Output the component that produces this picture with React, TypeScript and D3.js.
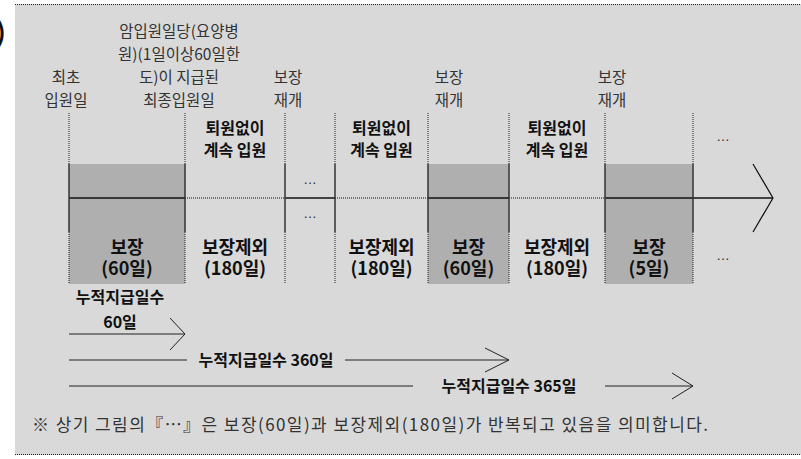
import React from 'react';
import * as d3 from 'd3';

// timeline segments, left to right
const segKind = ['cover', 'excl', 'gap', 'excl', 'cover', 'excl', 'cover'];
const segMain = ['보장', '보장제외', '', '보장제외', '보장', '보장제외', '보장'];
const segDays = ['(60일)', '(180일)', '', '(180일)', '(60일)', '(180일)', '(5일)'];
const stayLabel = ['퇴원없이', '계속 입원'];

// labels above the boundaries (boundary index -> lines)
const eventEdge = [0, 1, 2, 4, 6];
const eventLines = [
  ['최초', '입원일'],
  ['암입원일당(요양병', '원)(1일이상60일한', '도)이 지급된', '최종입원일'],
  ['보장', '재개'],
  ['보장', '재개'],
  ['보장', '재개'],
];

// cumulative paid-day arrows
const cumLabel = [['누적지급일수', '60일'], ['누적지급일수 360일'], ['누적지급일수 365일']];
const cumEndEdge = [1, 5, 7];

const note = '※ 상기 그림의『…』은 보장(60일)과 보장제외(180일)가 반복되고 있음을 의미합니다.';

// layout
const W = 801;
const H = 459;
const segUnits = [116, 100, 50, 93, 81, 96, 88];
const eventDx = [-3, -6, 3, 21, 7];
const cumLabelX = [120, 266, 509];
const cumY = [334, 360, 386];
const cumGapHalf = [0, 79, 96];
const cumHead = [[15, 16], [24, 12], [21, 13]];

const FONT = "'Noto Sans CJK KR', 'Noto Sans', sans-serif";
const BG = '#d9d9d9';
const BOX = '#afafaf';
const DOT = '1 1';

export default function App() {
  const cum = [0, ...d3.cumsum(segUnits)];
  const x = d3.scaleLinear().domain([0, d3.sum(segUnits)]).range([69, 693]);
  const edges = cum.map((c) => x(c));

  const y = d3.scaleLinear().domain([0, 1]).range([164, 284]); // box top/bottom
  const yMid = 198;
  const ySolidTop = 164;
  const ySolidBot = 232;
  const yDotTop = 113;
  const tipX = 773;

  return (
    <div>
      <style>{'body{margin:0}'}</style>
      <svg width={W} height={H} style={{ display: 'block' }} fontFamily={FONT}>
        <rect x={0} y={0} width={W} height={H} fill="#fff" />
        <rect x={15} y={4} width={W - 15} height={451} fill={BG} />
        <line x1={15} x2={W} y1={4.5} y2={4.5} stroke="#222" strokeDasharray={DOT} />
        <line x1={15} x2={W} y1={454.5} y2={454.5} stroke="#222" strokeDasharray={DOT} />
        <text x={-4} y={42} fontSize={26} fontWeight="bold" fill="#111">)</text>

        {/* covered boxes */}
        {segKind.map((k, i) =>
          k === 'cover' ? (
            <rect key={'b' + i} x={edges[i]} y={y(0)} width={edges[i + 1] - edges[i]} height={y(1) - y(0)} fill={BOX} />
          ) : null
        )}

        {/* main timeline */}
        {segKind.map((k, i) => (
          <line
            key={'m' + i}
            x1={edges[i]}
            x2={edges[i + 1]}
            y1={yMid}
            y2={yMid}
            stroke="#111"
            strokeWidth={k === 'excl' ? 1 : 1.5}
            strokeDasharray={k === 'excl' ? DOT : undefined}
          />
        ))}
        <line x1={edges[7]} x2={tipX} y1={yMid} y2={yMid} stroke="#111" strokeWidth={1.5} />
        <path d={`M${tipX - 20},${yMid - 34}L${tipX},${yMid}L${tipX - 20},${yMid + 34}`} fill="none" stroke="#111" strokeWidth={1.2} />

        {/* boundaries */}
        {edges.map((ex, i) => (
          <g key={'e' + i}>
            <line x1={ex} x2={ex} y1={yDotTop} y2={ySolidTop} stroke="#222" strokeDasharray={DOT} />
            <line x1={ex} x2={ex} y1={ySolidTop} y2={ySolidBot} stroke="#333" strokeWidth={1.5} />
            <line x1={ex} x2={ex} y1={ySolidBot} y2={y(1)} stroke="#222" strokeDasharray={DOT} />
          </g>
        ))}

        {/* event labels */}
        {eventEdge.map((ei, j) => {
          const lines = eventLines[j];
          return (
            <text key={'ev' + j} x={edges[ei] + eventDx[j]} textAnchor="middle" fontSize={15.5} fill="#333">
              {lines.map((t, k) => (
                <tspan key={k} x={edges[ei] + eventDx[j]} y={106 - (lines.length - 1 - k) * 23}>
                  {t}
                </tspan>
              ))}
            </text>
          );
        })}

        {/* segment labels */}
        {segKind.map((k, i) => {
          const cx = (edges[i] + edges[i + 1]) / 2;
          if (k === 'gap') {
            return (
              <g key={'s' + i} fontFamily="DejaVu Sans" fontSize={13} fill="#333" textAnchor="middle">
                <text x={cx} y={184}>…</text>
                <text x={cx} y={218}>…</text>
              </g>
            );
          }
          return (
            <g key={'s' + i} textAnchor="middle" fill="#111" fontWeight="bold">
              {k === 'excl' && (
                <text fontSize={16}>
                  {stayLabel.map((t, j) => (
                    <tspan key={j} x={cx} y={134 + j * 22}>
                      {t}
                    </tspan>
                  ))}
                </text>
              )}
              <text fontSize={18}>
                <tspan x={cx} y={254}>{segMain[i]}</tspan>
                <tspan x={cx} y={275}>{segDays[i]}</tspan>
              </text>
            </g>
          );
        })}
        <g fontFamily="DejaVu Sans" fontSize={13} fill="#333" textAnchor="middle">
          <text x={723} y={141}>…</text>
          <text x={723} y={260}>…</text>
        </g>

        {/* cumulative arrows */}
        {cumLabel.map((lab, i) => {
          const x0 = edges[0];
          const x1 = edges[cumEndEdge[i]];
          const yy = cumY[i];
          const [hx, hy] = cumHead[i];
          const g = cumGapHalf[i];
          const lx = cumLabelX[i];
          return (
            <g key={'c' + i}>
              {g > 0 ? (
                <>
                  <line x1={x0} x2={lx - g} y1={yy} y2={yy} stroke="#222" />
                  <line x1={lx + g} x2={x1} y1={yy} y2={yy} stroke="#222" />
                  <text x={lx} y={yy + 6} textAnchor="middle" fontSize={16} fontWeight="bold" fill="#111">
                    {lab[0]}
                  </text>
                </>
              ) : (
                <>
                  <line x1={x0} x2={x1} y1={yy} y2={yy} stroke="#222" />
                  <text textAnchor="middle" fontSize={16} fontWeight="bold" fill="#111">
                    {lab.map((t, k) => (
                      <tspan key={k} x={lx} y={303 + k * 25}>
                        {t}
                      </tspan>
                    ))}
                  </text>
                </>
              )}
              <path d={`M${x1 - hx},${yy - hy}L${x1},${yy}L${x1 - hx},${yy + hy}`} fill="none" stroke="#222" />
            </g>
          );
        })}

        <text x={32} y={431} fontSize={17} fill="#333" textLength={676} lengthAdjust="spacing">
          {note}
        </text>
      </svg>
    </div>
  );
}
